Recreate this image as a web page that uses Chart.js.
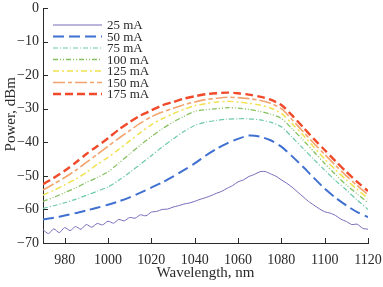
<!DOCTYPE html>
<html>
<head>
<meta charset="utf-8">
<script src="https://cdn.jsdelivr.net/npm/chart.js@4"></script>
<style>
  html, body { margin: 0; padding: 0; background: #fff; }
  canvas { display: block; }
</style>
</head>
<body>
<canvas id="specChart" width="383" height="287"></canvas>
<script>
// wavelength grid, nm
const wavelengths = [970, 975, 980, 985, 990, 995, 1000, 1005, 1010, 1015, 1020, 1025, 1030, 1035, 1040, 1045,
    1050, 1055, 1060, 1065, 1070, 1075, 1080, 1085, 1090, 1095, 1100, 1105, 1110, 1115, 1120];

// 25 mA trace is noisy, read at a finer step
const wavelengthsFine = [970, 972.5, 975, 977.5, 980, 982.5, 985, 987.5, 990, 992.5, 995, 997.5, 1000, 1002.5,
    1005, 1007.5, 1010, 1012.5, 1015, 1017.5, 1020, 1022.5, 1025, 1027.5, 1030, 1032.5, 1035, 1037.5, 1040,
    1042.5, 1045, 1047.5, 1050, 1052.5, 1055, 1057.5, 1060, 1062.5, 1065, 1067.5, 1070, 1072.5, 1075, 1077.5,
    1080, 1082.5, 1085, 1087.5, 1090, 1092.5, 1095, 1097.5, 1100, 1102.5, 1105, 1107.5, 1110, 1112.5, 1115,
    1117.5, 1120];

const p25 = [-66.0, -67.2, -65.8, -66.9, -65.4, -66.3, -65.1, -65.9, -64.5, -65.3, -64.2, -64.6, -63.5, -64.1,
    -63.0, -63.4, -62.4, -62.6, -61.6, -61.9, -60.8, -60.6, -60.0, -59.9, -59.3, -58.9, -58.4, -58.1, -57.6,
    -57.0, -56.5, -55.9, -55.2, -54.6, -53.7, -52.9, -51.8, -51.2, -50.2, -49.6, -48.8, -48.7, -49.4, -50.1,
    -51.2, -52.2, -53.4, -54.8, -56.2, -57.6, -58.7, -59.8, -60.7, -61.1, -61.8, -62.9, -63.6, -64.5, -64.4,
    -65.6, -65.9];
const p50 = [-63.0, -62.5, -61.8, -61.1, -60.3, -59.5, -58.6, -57.6, -56.4, -55.0, -53.5, -52.0, -50.2, -48.3,
    -46.3, -44.0, -42.0, -40.3, -39.0, -38.0, -38.3, -39.4, -41.3, -44.2, -47.3, -50.6, -53.8, -56.5, -58.8,
    -60.8, -62.3];
const p75 = [-59.7, -58.9, -58.0, -57.0, -55.8, -54.6, -53.3, -51.3, -49.0, -46.5, -44.0, -41.4, -39.0, -36.8,
    -35.0, -34.0, -33.5, -33.1, -33.0, -33.0, -33.3, -34.0, -35.4, -38.5, -41.8, -45.1, -48.3, -51.4, -54.2,
    -57.2, -60.0];
const p100 = [-57.6, -56.4, -55.0, -53.6, -52.0, -50.5, -48.8, -46.2, -43.5, -40.8, -38.3, -36.0, -34.0, -32.3,
    -30.8, -30.3, -30.0, -29.7, -29.8, -30.2, -30.8, -31.6, -32.9, -36.0, -39.3, -42.8, -46.3, -49.6, -52.7,
    -55.4, -58.0];
const p125 = [-55.7, -54.3, -52.7, -51.0, -49.0, -46.6, -44.5, -42.1, -39.6, -37.1, -34.8, -33.0, -31.5, -30.2,
    -29.1, -28.5, -28.0, -27.8, -28.0, -28.4, -28.9, -29.8, -31.4, -34.5, -37.8, -41.4, -45.0, -48.2, -51.2,
    -54.0, -56.7];
const p150 = [-54.2, -52.4, -50.5, -48.4, -46.0, -43.6, -41.2, -38.8, -36.5, -34.3, -32.4, -31.0, -29.9, -28.8,
    -28.0, -27.3, -26.9, -26.6, -26.7, -27.0, -27.5, -28.4, -30.0, -33.3, -36.8, -40.3, -43.6, -46.9, -50.0,
    -52.9, -55.6];
const p175 = [-52.5, -50.6, -48.5, -46.1, -43.5, -41.2, -38.8, -36.2, -34.0, -32.0, -30.5, -29.0, -28.0, -27.0,
    -26.3, -25.7, -25.4, -25.2, -25.4, -25.8, -26.4, -27.3, -28.9, -32.0, -35.5, -39.0, -42.3, -45.6, -48.8,
    -51.8, -54.5];

const currents = ['25 mA', '50 mA', '75 mA', '100 mA', '125 mA', '150 mA', '175 mA'];
const xTicks = [980, 1000, 1020, 1040, 1060, 1080, 1100, 1120];
const yTicks = [-70, -60, -50, -40, -30, -20, -10, 0];

const serif = '"Liberation Serif", "DejaVu Serif", serif';
const ink = '#2a2a2a';

function pts(xs, ys) {
    return xs.map((x, i) => ({ x: x, y: ys[i] }));
}

// line styles per current
const styles = [
    { color: '#7a68b8', width: 1,   dash: [] },
    { color: '#4070d0', width: 2,   dash: [11, 5] },
    { color: '#6ccaa8', width: 1.2, dash: [5, 2, 1, 2] },
    { color: '#86c060', width: 1.3, dash: [5, 2, 1, 2, 1, 2] },
    { color: '#f0e250', width: 1.5, dash: [6, 3, 2, 3] },
    { color: '#f3a46e', width: 1.6, dash: [12, 3, 4, 3] },
    { color: '#f04a2a', width: 2.4, dash: [8, 4] }
];

const series = [
    pts(wavelengthsFine, p25),
    pts(wavelengths, p50),
    pts(wavelengths, p75),
    pts(wavelengths, p100),
    pts(wavelengths, p125),
    pts(wavelengths, p150),
    pts(wavelengths, p175)
];

// inward tick marks + legend inside the plot
const decorPlugin = {
    id: 'decor',
    afterDraw(chart) {
        const ctx = chart.ctx;
        const xs = chart.scales.x;
        const ys = chart.scales.y;
        ctx.save();
        ctx.strokeStyle = ink;
        ctx.lineWidth = 1;
        ctx.beginPath();
        xTicks.forEach(v => {
            const px = Math.round(xs.getPixelForValue(v)) + 0.5;
            ctx.moveTo(px, ys.bottom);
            ctx.lineTo(px, ys.bottom - 5);
        });
        yTicks.forEach(v => {
            const py = Math.round(ys.getPixelForValue(v)) + 0.5;
            ctx.moveTo(xs.left, py);
            ctx.lineTo(xs.left + 5, py);
        });
        ctx.stroke();

        // legend
        ctx.font = '13px ' + serif;
        ctx.textBaseline = 'middle';
        ctx.fillStyle = ink;
        currents.forEach((name, i) => {
            const y = 25 + i * 11.5;
            const st = styles[i];
            ctx.strokeStyle = st.color;
            ctx.lineWidth = st.width;
            ctx.setLineDash(st.dash);
            ctx.beginPath();
            ctx.moveTo(53, y);
            ctx.lineTo(102, y);
            ctx.stroke();
            ctx.setLineDash([]);
            ctx.fillText(name, 107, y + 1);
        });
        ctx.restore();
    }
};

const minus = v => String(v).replace('-', '\u2212');

new Chart(document.getElementById('specChart').getContext('2d'), {
    type: 'line',
    data: {
        datasets: series.map((d, i) => ({
            label: currents[i],
            data: d,
            borderColor: styles[i].color,
            borderWidth: styles[i].width,
            borderDash: styles[i].dash,
            pointRadius: 0,
            tension: 0.25,
            fill: false
        }))
    },
    options: {
        responsive: false,
        animation: false,
        devicePixelRatio: 1,
        layout: { padding: { left: 0, right: 15, top: 8, bottom: 0 } },
        plugins: {
            legend: { display: false },
            tooltip: { enabled: false }
        },
        scales: {
            x: {
                type: 'linear',
                min: 970,
                max: 1120,
                afterBuildTicks: s => { s.ticks = xTicks.map(v => ({ value: v })); },
                afterFit: s => { s.height = 44; s.paddingLeft = 0; s.paddingRight = 0; },
                grid: { display: false, drawTicks: false },
                border: { display: true, color: ink, width: 1 },
                ticks: { color: ink, font: { family: serif, size: 14 }, padding: 9, maxRotation: 0, callback: v => minus(v) },
                title: {
                    display: true,
                    text: 'Wavelength, nm',
                    color: ink,
                    font: { family: serif, size: 15 },
                    padding: { top: 0, bottom: 5 }
                }
            },
            y: {
                min: -70,
                max: 0,
                afterBuildTicks: s => { s.ticks = yTicks.map(v => ({ value: v })); },
                afterFit: s => { s.width = 43; s.paddingTop = 0; s.paddingBottom = 0; },
                grid: { display: false, drawTicks: false },
                border: { display: true, color: ink, width: 1 },
                ticks: { color: ink, font: { family: serif, size: 14 }, padding: 4, callback: v => minus(v) },
                title: {
                    display: true,
                    text: '      Power, dBm',
                    color: ink,
                    font: { family: serif, size: 15 },
                    padding: { top: 2, bottom: 0 }
                }
            }
        }
    },
    plugins: [decorPlugin]
});
</script>
</body>
</html>
